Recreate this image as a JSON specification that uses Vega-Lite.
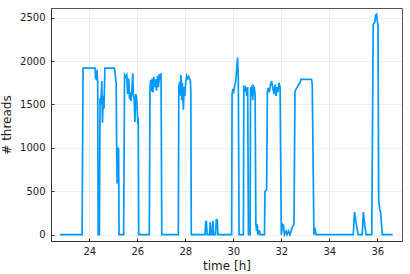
{
  "$schema": "https://vega.github.io/schema/vega-lite/v6.json",
  "autosize": "none",
  "width": 351,
  "height": 233,
  "padding": {"left": 51, "top": 8, "right": 8, "bottom": 33},
  "background": "white",
  "config": {
    "view": {"stroke": "#555", "strokeWidth": 1},
    "font": "DejaVu Sans",
    "axis": {
      "labelFont": "DejaVu Sans",
      "titleFont": "DejaVu Sans",
      "labelFontSize": 10,
      "titleFontSize": 12,
      "titleFontWeight": "normal",
      "labelColor": "#222",
      "titleColor": "#222",
      "domainColor": "#333",
      "domainWidth": 1,
      "tickColor": "#333",
      "gridColor": "#000",
      "gridOpacity": 0.1,
      "gridWidth": 0.6
    }
  },
  "data": {
    "values": [
      {"t":22.78,"n":0},{"t":23.70,"n":0},{"t":23.74,"n":1920},{"t":24.24,"n":1920},{"t":24.26,"n":1800},{"t":24.30,"n":1790},{"t":24.32,"n":1900},{"t":24.35,"n":1750},{"t":24.37,"n":0},{"t":24.42,"n":0},{"t":24.45,"n":1575},{"t":24.48,"n":1500},{"t":24.52,"n":1770},{"t":24.55,"n":1290},{"t":24.58,"n":1600},{"t":24.61,"n":1450},{"t":24.65,"n":1920},{"t":25.04,"n":1920},{"t":25.07,"n":1880},{"t":25.10,"n":1780},{"t":25.12,"n":1750},{"t":25.14,"n":1010},{"t":25.16,"n":590},{"t":25.18,"n":1010},{"t":25.20,"n":600},{"t":25.22,"n":1000},{"t":25.24,"n":0},{"t":25.43,"n":0},{"t":25.47,"n":1843},{"t":25.52,"n":1820},{"t":25.56,"n":1840},{"t":25.60,"n":1620},{"t":25.64,"n":1800},{"t":25.68,"n":1560},{"t":25.71,"n":1640},{"t":25.74,"n":1540},{"t":25.78,"n":1700},{"t":25.81,"n":1860},{"t":25.84,"n":1600},{"t":25.87,"n":1560},{"t":25.90,"n":1300},{"t":25.93,"n":1620},{"t":25.96,"n":1590},{"t":25.99,"n":1500},{"t":26.02,"n":1270},{"t":26.04,"n":1350},{"t":26.06,"n":0},{"t":26.50,"n":0},{"t":26.53,"n":1700},{"t":26.56,"n":1780},{"t":26.59,"n":1650},{"t":26.62,"n":1800},{"t":26.65,"n":1640},{"t":26.69,"n":1820},{"t":26.72,"n":1700},{"t":26.76,"n":1790},{"t":26.80,"n":1660},{"t":26.84,"n":1830},{"t":26.88,"n":1700},{"t":26.92,"n":1850},{"t":26.96,"n":1780},{"t":26.99,"n":1860},{"t":27.02,"n":0},{"t":27.71,"n":0},{"t":27.73,"n":1700},{"t":27.76,"n":1760},{"t":27.79,"n":1600},{"t":27.82,"n":1840},{"t":27.85,"n":1550},{"t":27.88,"n":1750},{"t":27.92,"n":1440},{"t":27.95,"n":1700},{"t":27.98,"n":1600},{"t":28.02,"n":1760},{"t":28.06,"n":1830},{"t":28.10,"n":1800},{"t":28.14,"n":1820},{"t":28.18,"n":1790},{"t":28.21,"n":1780},{"t":28.23,"n":1650},{"t":28.25,"n":0},{"t":28.82,"n":0},{"t":28.85,"n":150},{"t":28.88,"n":150},{"t":28.91,"n":0},{"t":29.01,"n":0},{"t":29.04,"n":150},{"t":29.07,"n":0},{"t":29.12,"n":0},{"t":29.15,"n":160},{"t":29.18,"n":0},{"t":29.26,"n":0},{"t":29.29,"n":170},{"t":29.33,"n":170},{"t":29.36,"n":0},{"t":29.93,"n":0},{"t":29.95,"n":1620},{"t":29.98,"n":1680},{"t":30.02,"n":1650},{"t":30.06,"n":1720},{"t":30.10,"n":1760},{"t":30.14,"n":1900},{"t":30.18,"n":2040},{"t":30.21,"n":1800},{"t":30.24,"n":0},{"t":30.42,"n":0},{"t":30.44,"n":1720},{"t":30.47,"n":1650},{"t":30.50,"n":1700},{"t":30.53,"n":1690},{"t":30.56,"n":1600},{"t":30.60,"n":1700},{"t":30.63,"n":0},{"t":30.70,"n":0},{"t":30.72,"n":1700},{"t":30.75,"n":1600},{"t":30.78,"n":1720},{"t":30.81,"n":1550},{"t":30.84,"n":1710},{"t":30.88,"n":1690},{"t":30.91,"n":1600},{"t":30.94,"n":130},{"t":30.97,"n":40},{"t":31.00,"n":120},{"t":31.03,"n":0},{"t":31.09,"n":50},{"t":31.12,"n":0},{"t":31.30,"n":0},{"t":31.32,"n":500},{"t":31.39,"n":520},{"t":31.42,"n":1650},{"t":31.45,"n":1690},{"t":31.50,"n":1640},{"t":31.55,"n":1730},{"t":31.60,"n":1770},{"t":31.65,"n":1680},{"t":31.70,"n":1620},{"t":31.74,"n":1730},{"t":31.78,"n":1600},{"t":31.82,"n":1700},{"t":31.86,"n":1640},{"t":31.90,"n":1750},{"t":31.95,"n":1700},{"t":32.00,"n":0},{"t":32.05,"n":120},{"t":32.09,"n":110},{"t":32.13,"n":0},{"t":32.20,"n":40},{"t":32.24,"n":0},{"t":32.30,"n":40},{"t":32.36,"n":0},{"t":32.42,"n":50},{"t":32.48,"n":100},{"t":32.53,"n":120},{"t":32.57,"n":1650},{"t":32.62,"n":1680},{"t":32.67,"n":1700},{"t":32.72,"n":1730},{"t":32.78,"n":1750},{"t":32.82,"n":1790},{"t":33.26,"n":1790},{"t":33.29,"n":1730},{"t":33.36,"n":0},{"t":33.40,"n":80},{"t":33.45,"n":0},{"t":35.00,"n":0},{"t":35.05,"n":260},{"t":35.11,"n":150},{"t":35.20,"n":0},{"t":35.37,"n":0},{"t":35.42,"n":260},{"t":35.48,"n":100},{"t":35.54,"n":0},{"t":35.77,"n":0},{"t":35.83,"n":2420},{"t":35.90,"n":2450},{"t":35.93,"n":2530},{"t":35.97,"n":2540},{"t":36.03,"n":2400},{"t":36.06,"n":400},{"t":36.10,"n":300},{"t":36.14,"n":250},{"t":36.21,"n":0},{"t":36.64,"n":0}
    ]
  },
  "mark": {"type": "line", "color": "#009AFA", "strokeWidth": 1.7, "clip": true},
  "encoding": {
    "x": {
      "field": "t", "type": "quantitative",
      "scale": {"domain": [22.404, 37.03], "nice": false, "zero": false},
      "axis": {"title": "time [h]", "values": [24, 26, 28, 30, 32, 34, 36], "format": "d", "tickSize": -3, "labelPadding": 8, "titlePadding": 4, "labelFlush": false}
    },
    "y": {
      "field": "n", "type": "quantitative",
      "scale": {"domain": [-72.6, 2611.7], "nice": false, "zero": false},
      "axis": {"title": "# threads", "values": [0, 500, 1000, 1500, 2000, 2500], "format": "d", "tickSize": -3, "labelPadding": 9, "titlePadding": 6, "labelFlush": false}
    }
  }
}
